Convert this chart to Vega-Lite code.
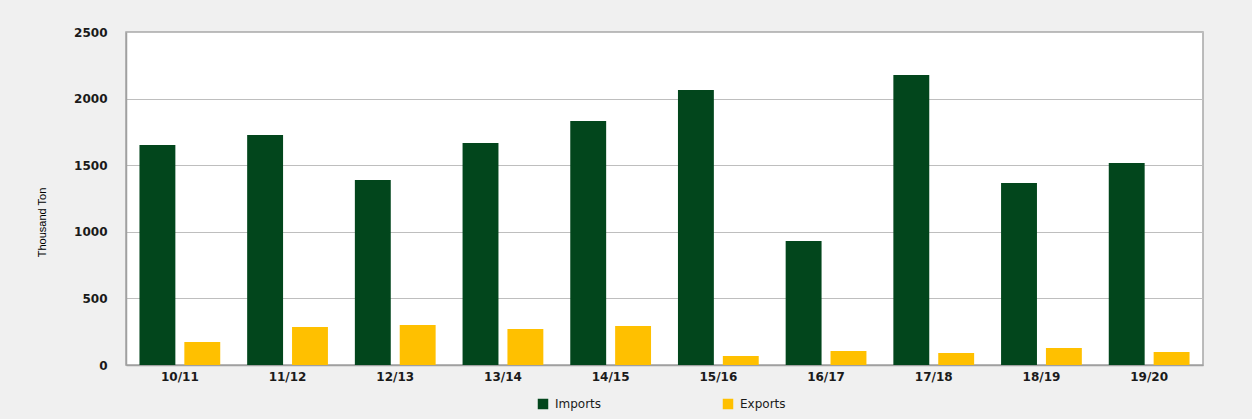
{
  "$schema": "https://vega.github.io/schema/vega-lite/v6.json",
  "autosize": {"type": "none"},
  "width": 1077,
  "height": 333,
  "padding": {"left": 126, "top": 32, "right": 49, "bottom": 54},
  "background": "#F0F0F0",
  "data": {
    "values": [
      {"season": "10/11", "type": "Imports", "value": 1652},
      {"season": "10/11", "type": "Exports", "value": 173},
      {"season": "11/12", "type": "Imports", "value": 1727},
      {"season": "11/12", "type": "Exports", "value": 285},
      {"season": "12/13", "type": "Imports", "value": 1389},
      {"season": "12/13", "type": "Exports", "value": 300},
      {"season": "13/14", "type": "Imports", "value": 1667},
      {"season": "13/14", "type": "Exports", "value": 270},
      {"season": "14/15", "type": "Imports", "value": 1832},
      {"season": "14/15", "type": "Exports", "value": 293},
      {"season": "15/16", "type": "Imports", "value": 2065},
      {"season": "15/16", "type": "Exports", "value": 68},
      {"season": "16/17", "type": "Imports", "value": 931},
      {"season": "16/17", "type": "Exports", "value": 105},
      {"season": "17/18", "type": "Imports", "value": 2177},
      {"season": "17/18", "type": "Exports", "value": 90},
      {"season": "18/19", "type": "Imports", "value": 1366},
      {"season": "18/19", "type": "Exports", "value": 128},
      {"season": "19/20", "type": "Imports", "value": 1516},
      {"season": "19/20", "type": "Exports", "value": 98}
    ]
  },
  "mark": {"type": "bar"},
  "encoding": {
    "x": {
      "field": "season",
      "type": "nominal",
      "sort": null,
      "scale": {"paddingInner": 0.25, "paddingOuter": 0.125},
      "axis": {
        "title": null,
        "labelAngle": 0,
        "labelFont": "DejaVu Sans",
        "labelFontSize": 12,
        "labelFontWeight": "bold",
        "labelColor": "#1a1a1a",
        "labelPadding": 6,
        "ticks": false,
        "domainColor": "#A0A0A0",
        "domainWidth": 1.5
      }
    },
    "xOffset": {
      "field": "type",
      "type": "nominal",
      "sort": ["Imports", "Exports"],
      "scale": {"paddingInner": 0.2, "paddingOuter": 0}
    },
    "y": {
      "field": "value",
      "type": "quantitative",
      "scale": {"domain": [0, 2500], "nice": false},
      "axis": {
        "title": "Thousand Ton",
        "titleFont": "Liberation Sans",
        "titleFontSize": 11,
        "titleFontWeight": "normal",
        "titleColor": "#000000",
        "titleX": -84,
        "titleY": 190,
        "titleAngle": 270,
        "titleAlign": "center",
        "titleBaseline": "middle",
        "values": [0, 500, 1000, 1500, 2000, 2500],
        "format": "d",
        "labelFont": "DejaVu Sans",
        "labelFontSize": 12,
        "labelFontWeight": "bold",
        "labelColor": "#1a1a1a",
        "labelPadding": 19,
        "ticks": false,
        "domainColor": "#A0A0A0",
        "domainWidth": 1.5,
        "grid": true,
        "gridColor": "#BEBEBE",
        "gridWidth": 1
      }
    },
    "color": {
      "field": "type",
      "type": "nominal",
      "scale": {"domain": ["Imports", "Exports"], "range": ["#02461C", "#FFC000"]},
      "legend": {
        "title": null,
        "orient": "none",
        "direction": "horizontal",
        "legendX": 411,
        "legendY": 366,
        "symbolType": "square",
        "symbolSize": 110,
        "symbolStrokeWidth": 0,
        "labelFont": "DejaVu Sans",
        "labelFontSize": 12,
        "labelColor": "#1a1a1a",
        "labelOffset": 6,
        "columnPadding": 120
      }
    }
  },
  "config": {
    "view": {"fill": "#FFFFFF", "stroke": "#A6A6A6", "strokeWidth": 1.5}
  }
}
